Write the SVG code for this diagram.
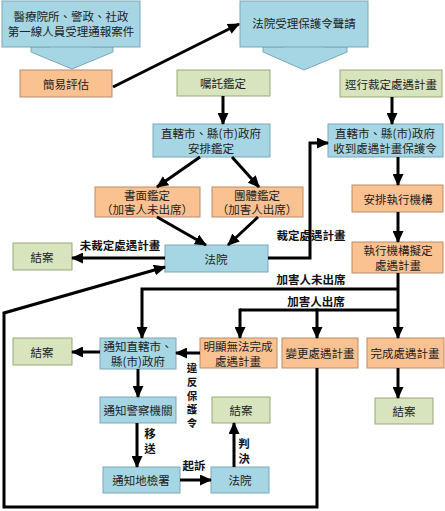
<svg xmlns="http://www.w3.org/2000/svg" width="445" height="511" viewBox="0 0 445 511">
<defs>
<marker id="ah" markerUnits="userSpaceOnUse" markerWidth="12" markerHeight="11" refX="11" refY="5.5" orient="auto">
<path d="M0,0 L12,5.5 L0,11 z" fill="#000"/>
</marker>
<style>
text{font-family:"Noto Sans CJK TC","Noto Sans CJK SC",sans-serif;font-size:11.5px;fill:#222;text-anchor:middle;dominant-baseline:central}
.b rect,.b polygon{fill:#a6d6e4;stroke:#7ba7b7;stroke-width:1}
.o rect{fill:#fac191;stroke:#b98c68;stroke-width:1}
.g rect{fill:#d7e4bd;stroke:#98aa78;stroke-width:1}
.c line,.c polyline{stroke:#000;stroke-width:3;fill:none}
.a{marker-end:url(#ah)}
.lbl{font-weight:bold;fill:#111}
</style>
</defs>
<rect width="445" height="511" fill="#fff"/>

<g id="bigarrow1" class="b">
<polygon points="31,47 50,47 50,40 92,40 92,47 113,47 113,52 72,69 31,52"/>
</g>
<g id="bigarrow2" class="b">
<polygon points="263,47 283,47 283,40 325,40 325,47 347,47 347,52 304,70 263,52"/>
</g>

<g id="n_report" class="b"><rect x="2" y="1" width="138" height="46"/><text x="71" y="16">醫療院所、警政、社政<tspan x="71" dy="14.5">第一線人員受理通報案件</tspan></text></g>
<g id="n_apply" class="b"><rect x="240" y="1" width="128" height="46"/><text x="304" y="23">法院受理保護令聲請</text></g>
<g id="n_eval" class="o"><rect x="20" y="70" width="92" height="27"/><text x="66" y="83.5">簡易評估</text></g>
<g id="n_entrust" class="g"><rect x="177" y="70" width="93" height="26"/><text x="223" y="83">囑託鑑定</text></g>
<g id="n_direct" class="g"><rect x="340" y="70" width="102" height="27"/><text x="391" y="83.5">逕行裁定處遇計畫</text></g>
<g id="n_gov1" class="b"><rect x="153" y="124" width="117" height="33"/><text x="211" y="133">直轄市、縣(市)政府<tspan x="211" dy="14.5">安排鑑定</tspan></text></g>
<g id="n_gov2" class="b"><rect x="328" y="124" width="115" height="33"/><text x="385" y="133">直轄市、縣(市)政府<tspan x="385" dy="14.5">收到處遇計畫保護令</tspan></text></g>
<g id="n_written" class="o"><rect x="95" y="187" width="105" height="30"/><text x="147" y="194.5">書面鑑定<tspan x="147" dy="14.5">（加害人未出席）</tspan></text></g>
<g id="n_group" class="o"><rect x="212" y="187" width="91" height="30"/><text x="257" y="194.5">團體鑑定<tspan x="257" dy="14.5">（加害人出席）</tspan></text></g>
<g id="n_arrange" class="o"><rect x="352" y="185" width="91" height="27"/><text x="398" y="198.5">安排執行機構</text></g>
<g id="n_court1" class="b"><rect x="165" y="245" width="103" height="27"/><text x="216" y="258.5">法院</text></g>
<g id="n_close1" class="g"><rect x="13" y="243" width="59" height="27"/><text x="42" y="256.5">結案</text></g>
<g id="n_draft" class="o"><rect x="352" y="242" width="91" height="31"/><text x="398" y="250">執行機構擬定<tspan x="398" dy="15">處遇計畫</tspan></text></g>
<g id="n_notify" class="b"><rect x="100" y="338" width="76" height="31"/><text x="138" y="345.5">通知直轄市、<tspan x="138" dy="15">縣(市)政府</tspan></text></g>
<g id="n_unable" class="o"><rect x="200" y="338" width="77" height="30"/><text x="238" y="345.5">明顯無法完成<tspan x="238" dy="15">處遇計畫</tspan></text></g>
<g id="n_change" class="o"><rect x="282" y="338" width="76" height="30"/><text x="320" y="353">變更處遇計畫</text></g>
<g id="n_complete" class="o"><rect x="367" y="338" width="77" height="30"/><text x="405" y="353">完成處遇計畫</text></g>
<g id="n_close2" class="g"><rect x="13" y="338" width="59" height="27"/><text x="42" y="351.5">結案</text></g>
<g id="n_police" class="b"><rect x="100" y="397" width="76" height="26"/><text x="138" y="410">通知警察機關</text></g>
<g id="n_close3" class="g"><rect x="212" y="397" width="58" height="26"/><text x="241" y="410">結案</text></g>
<g id="n_close4" class="g"><rect x="375" y="398" width="58" height="26"/><text x="404" y="411">結案</text></g>
<g id="n_prosecutor" class="b"><rect x="103" y="467" width="77" height="26"/><text x="141" y="480">通知地檢署</text></g>
<g id="n_court2" class="b"><rect x="211" y="467" width="58" height="26"/><text x="240" y="480">法院</text></g>

<g id="connectors" class="c">
<line class="a" x1="113" y1="87" x2="239" y2="24"/>
<line class="a" x1="223" y1="96" x2="223" y2="124"/>
<line class="a" x1="392" y1="97" x2="392" y2="124"/>
<line class="a" x1="200" y1="157" x2="157" y2="187"/>
<line class="a" x1="232" y1="157" x2="259" y2="187"/>
<line class="a" x1="157" y1="217" x2="206" y2="245"/>
<line class="a" x1="258" y1="217" x2="228" y2="245"/>
<line class="a" x1="165" y1="258" x2="72" y2="258"/>
<polyline class="a" points="268,258 310,258 310,143 328,143"/>
<line class="a" x1="398" y1="157" x2="398" y2="185"/>
<line class="a" x1="398" y1="212" x2="398" y2="242"/>
<line class="a" x1="398" y1="273" x2="398" y2="338"/>
<polyline class="a" points="398,289 142,289 142,338"/>
<line x1="398" y1="310" x2="240" y2="310"/>
<line class="a" x1="240" y1="308.5" x2="240" y2="338"/>
<line class="a" x1="317" y1="308.5" x2="317" y2="338"/>
<line class="a" x1="200" y1="353" x2="176" y2="353"/>
<line class="a" x1="100" y1="352" x2="72" y2="352"/>
<line class="a" x1="138" y1="369" x2="138" y2="397"/>
<line class="a" x1="137" y1="423" x2="137" y2="467"/>
<line class="a" x1="180" y1="480" x2="211" y2="480"/>
<line class="a" x1="234" y1="467" x2="234" y2="423"/>
<line class="a" x1="398" y1="368" x2="398" y2="398"/>
<polyline class="a" points="317,368 317,507 4,507 4,313 165,267"/>
</g>

<g id="labels">
<text class="lbl" x="120" y="245">未裁定處遇計畫</text>
<text class="lbl" x="311" y="235">裁定處遇計畫</text>
<text class="lbl" x="311" y="279">加害人未出席</text>
<text class="lbl" x="316" y="301">加害人出席</text>
<text class="lbl" x="192" y="367" style="font-size:10.5px">違<tspan x="192" dy="13.8">反</tspan><tspan x="192" dy="13.8">保</tspan><tspan x="192" dy="13.8">護</tspan><tspan x="192" dy="13.8">令</tspan></text>
<text class="lbl" x="150" y="433">移<tspan x="150" dy="15">送</tspan></text>
<text class="lbl" x="194" y="465">起訴</text>
<text class="lbl" x="244" y="443">判<tspan x="244" dy="15">決</tspan></text>
</g>
</svg>
